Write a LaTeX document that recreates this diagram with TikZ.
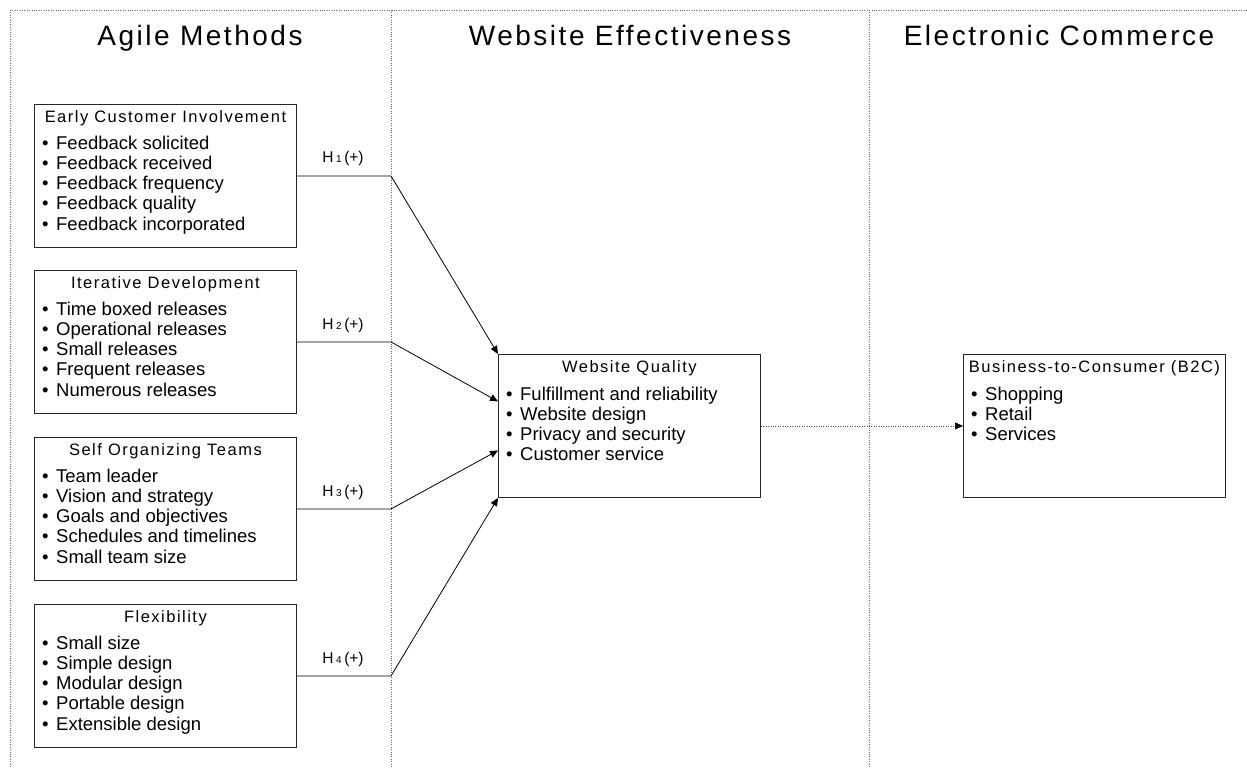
\documentclass[tikz,border=0pt]{standalone}
\usepackage{fontspec}
\setmainfont{Liberation Sans}
\newfontfamily\hdrfont[LetterSpace=9]{Liberation Sans}
\usetikzlibrary{arrows.meta,calc}
\newcommand\bul{\textbullet\hspace{7.5pt}}
\begin{document}
\begin{tikzpicture}[x=1pt,y=-1pt,
  box/.style={draw=black!85, line width=0.9pt, minimum width=262pt, minimum height=143pt, inner sep=0pt, anchor=north west},
  hdr/.style={font=\hdrfont\fontsize{16.5}{18}\selectfont, anchor=base, inner sep=0pt},
  items/.style={font=\fontsize{18.5}{20.25}\selectfont, anchor=base west, inner sep=0pt},
  title/.style={font=\hdrfont\fontsize{28}{30}\selectfont, anchor=base, inner sep=0pt},
  sep/.style={draw=black!60, line width=0.6pt, dash pattern=on 0.8pt off 1.6pt},
  arr/.style={draw=black, line width=0.8pt, -{Triangle[length=8pt,width=7pt]}},
  dotarr/.style={draw=black!70, line width=0.6pt, dash pattern=on 0.8pt off 1.6pt, -{Triangle[length=8pt,width=7pt,color=black]}},
  hlab/.style={font=\fontsize{15.5}{17}\selectfont, anchor=base, inner sep=0pt}
]
\useasboundingbox (0,0) rectangle (1247,768);
% frame and column separators
\coordinate (c0) at (10,10);
\coordinate (c0e) at (1247,10);
\coordinate (c0b) at (10,768);
\coordinate (s1) at (391,10);
\coordinate (s1b) at (391,768);
\coordinate (s2) at (869,10);
\coordinate (s2b) at (869,768);
\draw[sep] (c0) -- (c0e);
\draw[sep] (c0) -- (c0b);
\draw[sep] (s1) -- (s1b);
\draw[sep] (s2) -- (s2b);
% titles
\node[title] (t1) at (200,46) {Agile Methods};
\node[title] (t2) at (630,46) {Website Effectiveness};
\node[title] (t3) at (1059,46) {Electronic Commerce};
% box 1
\node[box] (b1) at (34,104) {};
\node[hdr] (b1h) at ($(b1.north)+(0,18)$) {Early Customer Involvement};
\node[items] (b1i) at ($(b1.north west)+(8,45)$) {\begin{tabular}[t]{@{}l@{}}\bul Feedback solicited\\ \bul Feedback received\\ \bul Feedback frequency\\ \bul Feedback quality\\ \bul Feedback incorporated\end{tabular}};
% box 2
\node[box] (b2) at (34,270) {};
\node[hdr] (b2h) at ($(b2.north)+(0,18)$) {Iterative Development};
\node[items] (b2i) at ($(b2.north west)+(8,45)$) {\begin{tabular}[t]{@{}l@{}}\bul Time boxed releases\\ \bul Operational releases\\ \bul Small releases\\ \bul Frequent releases\\ \bul Numerous releases\end{tabular}};
% box 3
\node[box] (b3) at (34,437) {};
\node[hdr] (b3h) at ($(b3.north)+(0,18)$) {Self Organizing Teams};
\node[items] (b3i) at ($(b3.north west)+(8,45)$) {\begin{tabular}[t]{@{}l@{}}\bul Team leader\\ \bul Vision and strategy\\ \bul Goals and objectives\\ \bul Schedules and timelines\\ \bul Small team size\end{tabular}};
% box 4
\node[box] (b4) at (34,604) {};
\node[hdr] (b4h) at ($(b4.north)+(0,18)$) {Flexibility};
\node[items] (b4i) at ($(b4.north west)+(8,45)$) {\begin{tabular}[t]{@{}l@{}}\bul Small size\\ \bul Simple design\\ \bul Modular design\\ \bul Portable design\\ \bul Extensible design\end{tabular}};
% website quality
\node[box] (wq) at (498,354) {};
\node[hdr] (wqh) at ($(wq.north)+(0,18)$) {Website Quality};
\node[items] (wqi) at ($(wq.north west)+(8,46)$) {\begin{tabular}[t]{@{}l@{}}\bul Fulfillment and reliability\\ \bul Website design\\ \bul Privacy and security\\ \bul Customer service\end{tabular}};
% B2C
\node[box] (bc) at (963,354) {};
\node[hdr] (bch) at ($(bc.north)+(0,18)$) {Business-to-Consumer (B2C)};
\node[items] (bci) at ($(bc.north west)+(8,46)$) {\begin{tabular}[t]{@{}l@{}}\bul Shopping\\ \bul Retail\\ \bul Services\end{tabular}};
% hypothesis labels
\node[hlab] (h1) at (343,162) {H\,{\fontsize{10}{10}\selectfont 1}\,(+)};
\node[hlab] (h2) at (343,329) {H\,{\fontsize{10}{10}\selectfont 2}\,(+)};
\node[hlab] (h3) at (343,496) {H\,{\fontsize{10}{10}\selectfont 3}\,(+)};
\node[hlab] (h4) at (343,663) {H\,{\fontsize{10}{10}\selectfont 4}\,(+)};
% connectors
\draw[arr] (b1.east) -- (b1.east -| s1) -- (wq.north west);
\draw[arr] (b2.east) -- (b2.east -| s1) -- ($(wq.west)+(0,-24.5)$);
\draw[arr] (b3.east) -- (b3.east -| s1) -- ($(wq.west)+(0,24.5)$);
\draw[arr] (b4.east) -- (b4.east -| s1) -- (wq.south west);
\draw[dotarr] (wq.east) -- (bc.west);
\end{tikzpicture}
\end{document}
